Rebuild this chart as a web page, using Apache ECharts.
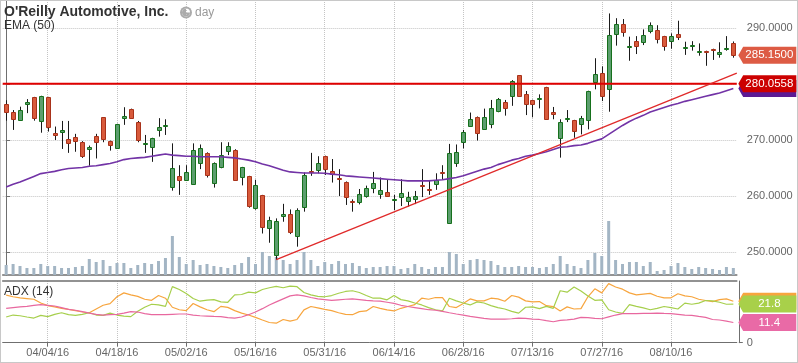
<!DOCTYPE html>
<html><head><meta charset="utf-8">
<script src="https://cdn.jsdelivr.net/npm/echarts@6/dist/echarts.min.js"></script>
<style>
html,body{margin:0;padding:0;background:#fff}
#wrap{position:relative;width:798px;height:363px}
#c{width:798px;height:363px}
#f{position:absolute;left:0;top:0;width:796px;height:361px;border:1px solid #c8c8c8;pointer-events:none}
</style>
</head><body>
<div id="wrap"><div id="c"></div><div id="f"></div></div>
<script>
const dates = ['03/24/16','03/28/16','03/29/16','03/30/16','03/31/16','04/01/16','04/04/16','04/05/16','04/06/16','04/07/16',
'04/08/16','04/11/16','04/12/16','04/13/16','04/14/16','04/15/16','04/18/16','04/19/16','04/20/16','04/21/16',
'04/22/16','04/25/16','04/26/16','04/27/16','04/28/16','04/29/16','05/02/16','05/03/16','05/04/16','05/05/16',
'05/06/16','05/09/16','05/10/16','05/11/16','05/12/16','05/13/16','05/16/16','05/17/16','05/18/16','05/19/16',
'05/20/16','05/23/16','05/24/16','05/25/16','05/26/16','05/27/16','05/31/16','06/01/16','06/02/16','06/03/16',
'06/06/16','06/07/16','06/08/16','06/09/16','06/10/16','06/13/16','06/14/16','06/15/16','06/16/16','06/17/16',
'06/20/16','06/21/16','06/22/16','06/23/16','06/24/16','06/27/16','06/28/16','06/29/16','06/30/16','07/01/16',
'07/05/16','07/06/16','07/07/16','07/08/16','07/11/16','07/12/16','07/13/16','07/14/16','07/15/16','07/18/16',
'07/19/16','07/20/16','07/21/16','07/22/16','07/25/16','07/26/16','07/27/16','07/28/16','07/29/16','08/01/16',
'08/02/16','08/03/16','08/04/16','08/05/16','08/08/16','08/09/16','08/10/16','08/11/16','08/12/16','08/15/16',
'08/16/16','08/17/16','08/18/16','08/19/16','08/22/16','08/23/16'];

const opens = [276.4,274.95,273.65,276.5,277.6,273.45,277.6,271.25,271.5,270.1,
270.5,269.6,268.35,270.65,274.05,269.8,268.6,273.9,275.5,273.2,
269.4,268.8,271.7,272.6,261.65,263.6,262.9,262.2,265.85,267.6,
262.3,265.2,268.0,268.15,263.35,263.5,257.9,260.1,254.2,249.4,
256.4,256.8,252.9,258.1,264.4,264.65,267.15,264.5,263.2,262.5,
259.1,258.9,260.05,261.4,260.3,260.65,259.4,259.9,259.15,259.5,
261.9,261.25,262.1,264.3,255.2,265.85,269.6,272.55,274.05,272.0,
272.85,275.25,276.75,277.9,281.55,278.15,277.1,277.4,279.4,274.95,
270.3,273.8,273.5,272.8,273.5,280.35,281.9,279.05,288.9,290.65,
286.7,287.65,287.45,289.45,289.6,288.5,287.6,288.95,286.5,286.85,
285.8,285.9,286.25,285.3,286.35,287.3];
const highs = [277.1,275.35,275.95,277.3,277.7,277.9,277.7,272.4,273.4,273.4,
271.1,269.8,269.0,271.1,274.1,269.9,272.9,275.85,275.6,273.4,
270.9,270.4,273.9,273.7,269.4,265.5,265.5,269.4,269.2,267.8,
266.0,269.6,269.6,268.35,265.2,263.6,262.9,260.2,256.3,256.0,
258.6,257.6,257.8,264.2,267.7,267.1,267.2,266.6,264.8,262.6,
259.4,261.25,261.85,264.3,263.3,262.85,260.2,263.0,260.75,260.9,
264.8,262.7,264.05,265.5,269.3,269.2,271.8,274.9,274.2,275.6,
277.15,277.5,277.15,280.7,281.6,278.75,277.2,278.15,279.5,275.9,
273.7,275.35,273.6,274.3,278.8,284.6,283.15,292.6,291.75,291.6,
288.45,288.55,289.75,291.0,290.5,288.6,289.05,291.3,287.55,287.65,
287.25,285.95,286.3,287.45,288.55,287.6];
const lows = [273.45,271.8,273.45,274.8,273.45,271.3,271.5,270.0,268.4,267.7,
267.9,266.8,265.4,266.7,269.6,268.1,268.5,272.7,273.8,269.6,
267.7,266.1,270.6,270.9,260.95,260.2,262.7,262.0,264.8,263.3,
261.5,264.95,267.3,262.7,261.9,257.9,257.55,253.3,251.65,248.6,
255.4,253.2,250.95,257.2,263.6,264.05,263.75,262.4,260.0,258.4,
257.2,258.5,259.7,260.5,259.5,259.9,257.5,258.2,258.1,258.55,
259.8,260.2,261.1,262.9,255.0,265.2,268.5,272.4,269.9,271.8,
272.1,274.95,274.35,276.1,277.7,274.45,274.05,275.65,273.6,273.7,
266.85,273.2,270.4,271.0,271.9,279.05,276.95,275.05,286.85,288.45,
284.15,285.35,286.95,289.05,287.25,285.95,286.3,287.85,285.2,285.95,
285.05,283.25,284.3,284.7,285.95,284.7];
const closes = [275.05,273.7,275.3,276.7,274.0,277.8,272.4,270.85,271.7,269.5,
269.9,267.2,268.7,269.6,270.1,269.05,272.8,274.3,273.9,270.0,
269.55,270.3,272.3,272.75,264.95,262.9,264.2,268.15,268.5,263.7,
265.85,267.3,268.9,262.9,265.1,258.15,261.9,254.4,255.65,255.5,
256.8,253.5,257.5,263.7,264.2,265.9,264.75,263.9,263.0,259.9,
258.95,260.3,261.4,262.3,261.0,260.05,259.55,260.5,259.75,260.0,
261.7,261.1,262.85,264.1,267.6,267.8,271.4,273.7,271.3,274.15,
275.65,277.4,275.65,280.6,277.9,276.4,276.4,277.55,273.75,274.6,
273.15,273.95,271.55,273.9,278.7,281.8,277.8,288.7,290.65,289.25,
286.85,286.85,288.7,290.5,288.0,286.85,288.55,288.35,286.65,287.0,
285.95,285.75,286.1,285.65,286.5,285.15];
// volume, thousands of shares
const volumes = [900,990,810,630,630,990,810,810,630,630,
720,810,1440,1170,1350,810,1080,1080,630,900,
1080,990,1260,1530,3510,1620,990,1350,900,990,
810,720,630,900,1080,1620,990,2070,1710,1620,
1350,990,1350,2070,1350,810,1170,990,1260,990,
1080,810,630,720,720,810,810,540,630,990,
720,540,720,720,2070,1890,990,1350,1440,1350,
1260,900,720,720,810,720,720,630,720,990,
1710,990,810,630,1350,1980,1710,4860,1350,990,
1170,1170,810,1170,360,450,810,1080,720,540,
720,630,540,450,720,630];
const ema50 = [261.6,262.1,262.5,263.0,263.5,264.0,264.2,264.4,264.7,264.9,
265.0,265.1,265.3,265.4,265.6,265.8,266.1,266.5,266.7,266.8,
266.9,267.1,267.3,267.5,267.3,267.2,267.1,267.1,267.0,267.0,
267.0,267.0,266.9,266.8,266.6,266.4,266.1,265.7,265.4,265.0,
264.6,264.3,264.2,264.1,264.1,264.1,264.05,263.9,263.8,263.6,
263.5,263.4,263.3,263.2,263.1,263.0,262.9,262.8,262.7,262.7,
262.7,262.7,262.8,262.9,263.1,263.3,263.6,264.0,264.4,264.8,
265.1,265.6,266.0,266.4,266.7,267.1,267.3,267.6,267.9,268.3,
268.7,268.8,269.0,269.1,269.4,269.8,270.2,271.0,271.8,272.6,
273.3,273.9,274.4,275.0,275.4,275.8,276.2,276.5,276.9,277.2,
277.5,277.8,278.1,278.4,278.8,279.2];
const minusDI = [26.8,25.9,25.3,24.9,24.5,22.4,20.9,20.2,19.4,18.8,
18.1,17.3,16.9,19.0,21.1,22.0,25.9,28.1,27.0,26.1,
24.5,23.9,26.6,25.1,20.0,18.6,18.1,22.1,20.2,18.6,
17.5,20.5,19.9,18.1,16.7,15.6,14.3,12.8,11.4,11.0,
13.1,12.2,13.1,18.5,20.4,19.6,18.8,18.1,16.9,16.0,
15.8,17.5,17.9,20.4,19.4,18.5,17.9,19.4,20.4,21.5,
25.1,24.5,25.5,25.4,20.4,19.8,22.1,24.7,23.6,23.6,
25.1,24.7,23.4,26.6,25.7,23.6,23.0,23.2,20.9,20.4,
17.9,20.2,19.0,19.2,25.9,30.4,28.1,33.3,31.4,30.2,
28.1,27.0,27.4,27.8,26.2,25.3,25.3,27.6,26.4,25.9,
24.5,23.8,23.2,24.3,24.7,23.4];
const plusDI = [14.5,15.6,15.2,14.5,13.9,15.4,14.7,16.0,16.9,15.8,
15.4,16.0,16.9,15.6,15.4,16.7,15.6,15.0,14.7,17.7,
20.0,21.7,21.3,20.5,31.6,30.0,27.8,24.9,23.4,24.0,
24.3,23.0,22.8,27.0,27.2,28.5,28.1,30.0,31.0,31.8,
31.0,31.9,31.6,28.3,27.0,26.1,25.9,26.6,27.9,28.9,
29.3,28.3,26.6,25.1,25.1,24.2,26.6,24.3,23.6,22.4,
21.3,19.8,18.6,17.9,25.1,23.6,22.4,21.3,23.0,22.4,
20.9,19.8,19.0,17.7,16.7,20.0,20.2,19.2,20.5,19.4,
29.3,28.5,31.4,29.1,26.4,23.9,24.2,18.6,17.3,16.5,
21.5,20.5,19.6,18.6,19.4,20.4,19.8,19.0,22.3,21.7,
22.3,23.8,23.6,22.8,21.7,21.8];
const adx = [19.4,19.8,20.2,20.5,21.1,21.5,21.1,20.7,19.8,18.8,
18.3,17.5,16.7,16.0,15.6,15.8,16.0,16.7,17.5,17.3,
16.4,15.8,15.8,15.8,16.0,16.2,16.2,15.6,15.2,15.0,
14.8,14.7,14.1,13.9,14.5,15.8,17.3,19.2,21.3,23.0,
24.7,26.4,27.0,26.4,25.5,24.7,24.3,23.9,24.2,24.5,
24.7,24.3,23.9,23.6,23.4,22.8,22.2,21.1,20.4,19.8,
19.2,18.6,18.3,17.7,16.9,16.2,15.6,14.8,14.3,13.7,
13.3,13.3,13.3,13.5,13.9,13.7,13.3,13.1,12.4,11.8,
12.6,12.9,13.3,14.3,14.1,13.7,13.5,14.6,15.6,16.4,
16.4,16.4,16.5,16.5,16.7,16.5,16.4,16.0,15.6,15.4,
14.8,14.3,13.1,12.8,12.2,11.4];
const hLineLevel = 280.0558;
const trendStart = [39, 248.65];
const trendEnd = [105.5, 281.93];
const priceTicks = [250, 260, 270, 280, 290];
const adxTicks = [0];
const labelStart = 6, labelStep = 10;

const FONT = 'Liberation Sans, Arial, sans-serif';
const last = dates.length - 1;
const showLab = (idx) => idx >= labelStart && (idx - labelStart) % labelStep === 0;
const grid = {type:'dotted', color:'#c4c4c4', width:1};
const axisCol = '#6f6f6f';
const tagPath = 'path://M0,8.5L5,0H60V17H5Z';
function tag(coord, color, text){
  return {coord: coord, symbol: tagPath, symbolSize:[58,17], symbolOffset:[34,0],
    itemStyle:{color: color},
    label:{show: text !== null, formatter: text || '', color:'#fff', fontSize:11.5, fontFamily:FONT, offset:[2,0]}};
}

const chart = echarts.init(document.getElementById('c'), null, {renderer:'canvas'});
chart.setOption({
  animation:false,
  textStyle:{fontFamily:FONT},
  title:[
    {text:"O'Reilly Automotive, Inc.", left:4, top:5, padding:0, textStyle:{fontFamily:FONT, fontWeight:'bold', fontSize:14, color:'#333'}},
    {text:'day', left:195, top:7, padding:0, textStyle:{fontFamily:FONT, fontWeight:'normal', fontSize:12, color:'#9a9a9a'}},
    {text:'EMA (50)', left:4, top:20, padding:0, textStyle:{fontFamily:FONT, fontWeight:'normal', fontSize:12, color:'#333'}},
    {text:'ADX (14)', left:4, top:285.5, padding:0, textStyle:{fontFamily:FONT, fontWeight:'normal', fontSize:12, color:'#333'}}
  ],
  graphic:[
    {type:'circle', shape:{cx:186, cy:12.5, r:6}, style:{fill:'#ababab'}},
    {type:'circle', shape:{cx:186, cy:12.5, r:4}, style:{fill:'#fff'}},
    {type:'sector', shape:{cx:186, cy:12.5, r:4, r0:0, startAngle:0, endAngle:Math.PI*1.5}, style:{fill:'#ababab'}}
  ],
  grid:[
    {left:2.7, right:61.2, top:0, height:275},
    {left:2.7, right:61.2, top:281, bottom:20.3}
  ],
  xAxis:[
    {type:'category', gridIndex:0, data:dates, boundaryGap:true,
     axisLine:{show:true, lineStyle:{color:axisCol, width:1.5}}, axisTick:{show:false}, axisLabel:{show:false},
     splitLine:{show:true, interval:showLab, alignWithLabel:true, lineStyle:grid}},
    {type:'category', gridIndex:1, data:dates, boundaryGap:true,
     axisLine:{show:true, lineStyle:{color:axisCol, width:1}},
     axisTick:{show:true, interval:showLab, alignWithLabel:true, length:4, lineStyle:{color:axisCol}},
     axisLabel:{interval:showLab, color:'#666', fontSize:11, fontFamily:FONT, margin:5},
     splitLine:{show:true, interval:showLab, alignWithLabel:true, lineStyle:grid}},
    {type:'value', gridIndex:0, min:-0.5, max:last + 0.5, show:false},
    {type:'category', gridIndex:1, data:dates, position:'top',
     axisLine:{show:true, lineStyle:{color:axisCol, width:1.5}}, axisTick:{show:false}, axisLabel:{show:false}, splitLine:{show:false}}
  ],
  yAxis:[
    {type:'value', gridIndex:0, position:'right', offset:2, min:245.89, max:295, splitNumber:5,
     axisLine:{show:true, lineStyle:{color:axisCol, width:1}},
     axisTick:{show:true, length:4, customValues:priceTicks, lineStyle:{color:axisCol}},
     axisLabel:{customValues:priceTicks, formatter:(v)=>Number(v).toFixed(4), color:'#666', fontSize:11, fontFamily:FONT, margin:8},
     splitLine:{show:true, lineStyle:grid}},
    {type:'value', gridIndex:0, min:0, max:24750, show:false},
    {type:'value', gridIndex:1, position:'right', offset:2, min:0, max:34.8, interval:25,
     axisLine:{show:true, lineStyle:{color:axisCol, width:1}},
     axisTick:{show:true, length:4, customValues:adxTicks, lineStyle:{color:axisCol}},
     axisLabel:{customValues:adxTicks, color:'#666', fontSize:11, fontFamily:FONT, margin:8},
     splitLine:{show:true, lineStyle:grid}}
  ],
  series:[
    {type:'bar', name:'Volume', xAxisIndex:0, yAxisIndex:1, data:volumes, barWidth:3,
     itemStyle:{color:'#a3b5c4'}, silent:true, z:1},
    {type:'custom', name:'Price', xAxisIndex:0, yAxisIndex:0, z:3,
     data: dates.map((d,i)=>[i, opens[i], closes[i], lows[i], highs[i]]),
     encode:{x:0, y:[1,2,3,4]},
     renderItem:function(params, api){
       const i = api.value(0), o = api.value(1), c = api.value(2), l = api.value(3), h = api.value(4);
       const pO = api.coord([i,o]), pC = api.coord([i,c]), pL = api.coord([i,l]), pH = api.coord([i,h]);
       const x = Math.round(pO[0]) + 0.5;
       const up = c >= o;
       let top = Math.min(pO[1], pC[1]), bot = Math.max(pO[1], pC[1]);
       top = Math.round(top) + 0.5; bot = Math.max(Math.round(bot) + 0.5, top + 1);
       return {type:'group', children:[
         {type:'line', shape:{x1:x, y1:pH[1], x2:x, y2:pL[1]}, style:{stroke:'#1a1a1a', lineWidth:1}},
         {type:'rect', shape:{x:x-2, y:top, width:4, height:bot-top},
          style:{fill: up ? '#5c9e6e' : '#d85a3b', stroke: up ? '#16701c' : '#a8321a', lineWidth:1}}
       ]};
     }},
    {type:'line', name:'Level', xAxisIndex:2, yAxisIndex:0, z:4, symbol:'none', silent:true,
     data:[[-0.5, hLineLevel],[last + 0.5, hLineLevel]],
     lineStyle:{color:'#e00000', width:2}},
    {type:'line', name:'EMA (50)', xAxisIndex:0, yAxisIndex:0, data:ema50, symbol:'none', z:4,
     lineStyle:{color:'#7233a6', width:1.6},
     markPoint:{silent:true, data:[
       tag([dates[last], ema50[last]], '#5c1a94', null),
       tag([dates[last], hLineLevel], '#cc0000', hLineLevel.toFixed(4)),
       tag([dates[last], closes[last]], '#dd5b44', closes[last].toFixed(4))
     ]}},
    {type:'line', name:'Trend', xAxisIndex:2, yAxisIndex:0, data:[trendStart, trendEnd], symbol:'none', z:4,
     lineStyle:{color:'#e02a2a', width:1.3}, silent:true},
    {type:'line', name:'-DI', xAxisIndex:1, yAxisIndex:2, data:minusDI, symbol:'none',
     lineStyle:{color:'#f7a53e', width:1.2},
     markPoint:{silent:true, data:[tag([dates[last], minusDI[last]], '#f7a53e', null)]}},
    {type:'line', name:'+DI', xAxisIndex:1, yAxisIndex:2, data:plusDI, symbol:'none',
     lineStyle:{color:'#a6cf4c', width:1.2},
     markPoint:{silent:true, data:[tag([dates[last], plusDI[last]], '#a8d04a', plusDI[last].toFixed(1))]}},
    {type:'line', name:'ADX', xAxisIndex:1, yAxisIndex:2, data:adx, symbol:'none',
     lineStyle:{color:'#e8689f', width:1.2},
     markPoint:{silent:true, data:[tag([dates[last], adx[last]], '#e96aa6', adx[last].toFixed(1))]}}
  ]
});
</script>
</body></html>
